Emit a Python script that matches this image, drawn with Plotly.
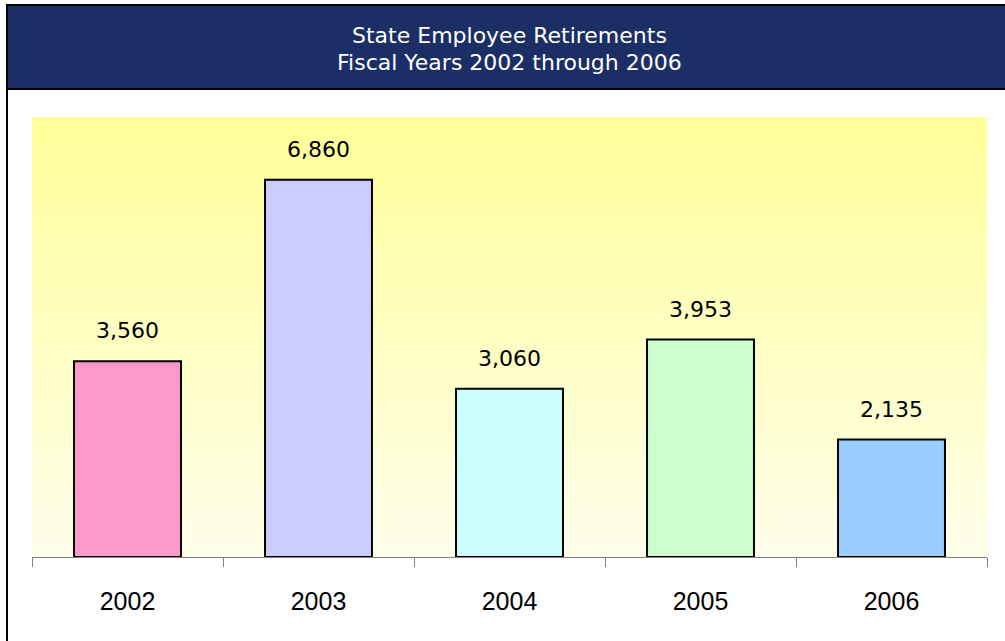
import plotly.graph_objects as go

years = ["2002", "2003", "2004", "2005", "2006"]
retirements = [3560, 6860, 3060, 3953, 2135]
bar_colors = ["#ff99cc", "#ccccff", "#ccffff", "#ccffcc", "#99ccff"]
title_lines = ["State Employee Retirements", "Fiscal Years 2002 through 2006"]

W, H = 1005, 641
L, R, T, B = 32, 18, 117, 84
PW, PH = W - L - R, H - T - B


def px_x(px):
    return (px - L) / PW


def px_y(py):
    return (H - B - py) / PH


fig = go.Figure()
fig.add_trace(go.Bar(
    x=years, y=retirements,
    marker=dict(color=bar_colors, line=dict(color="black", width=2)),
    hoverinfo="x+y",
))

shapes = []
# gradient background of plot area
n = 88
top = (255, 255, 153)
bot = (255, 255, 235)
for i in range(n):
    f = i / (n - 1)
    c = tuple(round(top[k] + (bot[k] - top[k]) * f) for k in range(3))
    shapes.append(dict(
        type="rect", xref="paper", yref="paper",
        x0=0, x1=1, y0=1 - (i + 1) / n, y1=1 - i / n,
        fillcolor="rgb(%d,%d,%d)" % c, line=dict(width=0), layer="below",
    ))
# header band
shapes.append(dict(
    type="rect", xref="paper", yref="paper",
    x0=px_x(7), x1=px_x(1012), y0=px_y(89), y1=px_y(5),
    fillcolor="#1b2f66", line=dict(color="black", width=2), layer="above",
))
# left frame line
shapes.append(dict(
    type="line", xref="paper", yref="paper",
    x0=px_x(7), x1=px_x(7), y0=px_y(5), y1=px_y(650),
    line=dict(color="black", width=2), layer="above",
))

annotations = []
for i, line in enumerate(title_lines):
    annotations.append(dict(
        text=line, xref="paper", yref="paper", x=px_x(509), y=px_y(35 + 27 * i),
        xanchor="center", yanchor="middle", showarrow=False,
        font=dict(family="DejaVu Sans", size=22, color="white"),
    ))
for i, v in enumerate(retirements):
    annotations.append(dict(
        text=f"{v:,}", x=i, y=v, xref="x", yref="y",
        xanchor="center", yanchor="bottom", yshift=16, showarrow=False,
        font=dict(family="DejaVu Sans", size=22, color="black"),
    ))

fig.update_layout(
    width=W, height=H,
    margin=dict(l=L, r=R, t=T, b=B, pad=0),
    paper_bgcolor="white",
    plot_bgcolor="rgba(0,0,0,0)",
    showlegend=False,
    bargap=0.44,
    shapes=shapes,
    annotations=annotations,
    xaxis=dict(
        type="category", showgrid=False, zeroline=False,
        range=[-0.5, len(years) - 0.5],
        showline=True, linecolor="#808080", linewidth=1,
        ticks="outside", tickson="boundaries", ticklen=9, tickcolor="#808080",
        tickfont=dict(family="Liberation Sans", size=25, color="black"),
        ticklabelstandoff=22,
    ),
    yaxis=dict(
        range=[0, 8000], showgrid=False, zeroline=False, showline=False,
        showticklabels=False, ticks="",
    ),
)

fig.write_html("out.html", config={"displayModeBar": False},
               post_script="document.body.style.margin='0';")
